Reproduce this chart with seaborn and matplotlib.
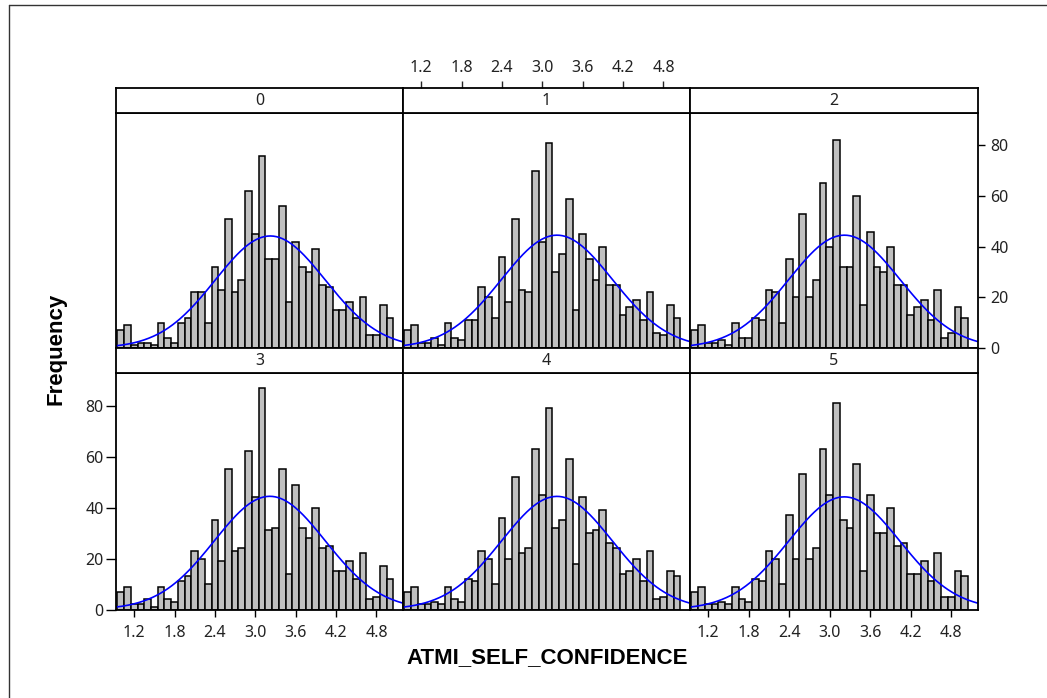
import numpy as np
import pandas as pd
import matplotlib
matplotlib.use("Agg")
import matplotlib.pyplot as plt
from matplotlib.lines import Line2D
import seaborn as sns

# Histogram bins (centres of the 0.1-wide score bins)
bin_centers = [1.0, 1.1, 1.2, 1.3, 1.4, 1.5, 1.6, 1.7, 1.8, 1.9,
               2.0, 2.1, 2.2, 2.3, 2.4, 2.5, 2.6, 2.7, 2.8, 2.9,
               3.0, 3.1, 3.2, 3.3, 3.4, 3.5, 3.6, 3.7, 3.8, 3.9,
               4.0, 4.1, 4.2, 4.3, 4.4, 4.5, 4.6, 4.7, 4.8, 4.9, 5.0]
bin_width = 0.1

panel_labels = ["0", "1", "2", "3", "4", "5"]

counts_0 = [7, 9, 1, 2, 2, 1, 10, 4, 2, 10, 12, 22, 22, 10, 32, 23, 51, 22, 27, 62, 45,
            76, 35, 35, 56, 18, 42, 32, 30, 39, 25, 24, 15, 15, 18, 12, 20, 5, 5, 17, 12]
counts_1 = [7, 9, 2, 2, 4, 1, 10, 4, 3, 11, 11, 24, 20, 12, 36, 18, 51, 23, 22, 70, 42,
            81, 30, 37, 59, 15, 45, 35, 27, 40, 25, 25, 13, 16, 19, 11, 22, 6, 5, 17, 12]
counts_2 = [7, 9, 2, 2, 3, 1, 10, 4, 4, 12, 11, 23, 22, 10, 35, 20, 53, 20, 27, 65, 40,
            82, 32, 32, 60, 17, 46, 32, 30, 40, 25, 25, 13, 16, 19, 11, 23, 4, 6, 16, 12]
counts_3 = [7, 9, 2, 2, 4, 1, 9, 4, 3, 11, 13, 23, 20, 10, 35, 19, 55, 23, 24, 62, 44,
            87, 31, 32, 55, 14, 49, 32, 28, 40, 24, 25, 15, 15, 19, 12, 22, 4, 5, 17, 12]
counts_4 = [7, 9, 2, 2, 3, 2, 9, 4, 3, 12, 11, 23, 20, 10, 36, 20, 52, 22, 24, 63, 45,
            79, 32, 35, 59, 18, 44, 30, 31, 39, 26, 24, 14, 15, 20, 11, 23, 4, 5, 15, 13]
counts_5 = [7, 9, 2, 2, 3, 2, 9, 4, 3, 12, 11, 23, 20, 10, 37, 20, 53, 20, 24, 63, 45,
            81, 35, 32, 57, 15, 45, 30, 30, 40, 25, 26, 14, 14, 19, 11, 22, 5, 5, 15, 13]
panel_counts = [counts_0, counts_1, counts_2, counts_3, counts_4, counts_5]

x_ticks = [1.2, 1.8, 2.4, 3.0, 3.6, 4.2, 4.8]
x_tick_labels = ["1.2", "1.8", "2.4", "3.0", "3.6", "4.2", "4.8"]
y_ticks = [0, 20, 40, 60, 80]
x_title = "ATMI_SELF_CONFIDENCE"
y_title = "Frequency"

sns.set_style("white")
plt.rcParams["font.family"] = ["Noto Sans", "DejaVu Sans"]

W, H = 1047, 698
fig = plt.figure(figsize=(W / 100, H / 100), dpi=100)
fig.patch.set_facecolor("white")

XLIM = (0.93, 5.195)
YLIM = (0, 92.8)
FRAME_LW = 1.3
TICK_FS = 11.5


def px_axes(left, top, right, bottom):
    return fig.add_axes([left / W, 1 - bottom / H, (right - left) / W, (bottom - top) / H])


col_px = [(116, 403), (403, 690), (690, 978)]
row_px = [(113, 348), (373, 609.5)]
strip_px = [(88, 113), (348, 373)]

edges = [round(b - bin_width / 2, 3) for b in bin_centers] + [round(bin_centers[-1] + bin_width / 2, 3)]

for idx, (label, counts) in enumerate(zip(panel_labels, panel_counts)):
    r, c = divmod(idx, 3)
    x0, x1 = col_px[c]
    y0, y1 = row_px[r]
    ax = px_axes(x0, y0, x1, y1)

    df = pd.DataFrame({"score": bin_centers, "count": counts})
    sns.histplot(data=df, x="score", weights="count", bins=edges, ax=ax,
                 color="#c0c0c0", edgecolor="black", linewidth=1.1, alpha=1.0)

    # fitted normal curve scaled to counts
    cts = np.array(counts, dtype=float)
    xs_c = np.array(bin_centers)
    n = cts.sum()
    mu = (cts * xs_c).sum() / n
    sd = np.sqrt((cts * (xs_c - mu) ** 2).sum() / (n - 1))
    xs = np.linspace(XLIM[0], XLIM[1], 300)
    ys = n * bin_width * np.exp(-0.5 * ((xs - mu) / sd) ** 2) / (sd * np.sqrt(2 * np.pi))
    sns.lineplot(x=xs, y=ys, ax=ax, color="#0000ff", linewidth=1.2)

    ax.set_xlim(*XLIM)
    ax.set_ylim(*YLIM)
    ax.set_xlabel("")
    ax.set_ylabel("")
    for sp in ax.spines.values():
        sp.set_visible(True)
        sp.set_color("black")
        sp.set_linewidth(FRAME_LW)
        sp.set_zorder(5)

    ax.tick_params(axis="both", direction="out", length=5, width=1, color="black",
                   labelsize=TICK_FS, labelcolor="#222222")

    # x axis ticks only on bottom-left and bottom-right panels
    if idx in (3, 5):
        ax.set_xticks(x_ticks)
        ax.set_xticklabels(x_tick_labels)
        ax.tick_params(axis="x", bottom=True, pad=6)
    else:
        ax.set_xticks([])

    if idx == 3:
        ax.set_yticks(y_ticks)
        ax.tick_params(axis="y", left=True, length=7, pad=2)
    elif idx == 2:
        ax.yaxis.tick_right()
        ax.set_yticks(y_ticks)
        ax.tick_params(axis="y", right=True, left=False, pad=4)
    else:
        ax.set_yticks([])

    # panel strip header
    s0, s1 = strip_px[r]
    sax = px_axes(x0, s0, x1, s1)
    sax.set_facecolor("white")
    sax.set_xlim(*XLIM)
    sax.set_ylim(0, 1)
    sax.set_yticks([])
    for sp in sax.spines.values():
        sp.set_visible(True)
        sp.set_color("black")
        sp.set_linewidth(FRAME_LW)
    sax.text(0.5, 0.48, label, transform=sax.transAxes, ha="center", va="center",
             fontsize=TICK_FS, color="#222222")
    if idx == 1:
        sax.xaxis.tick_top()
        sax.set_xticks(x_ticks)
        sax.set_xticklabels(x_tick_labels)
        sax.tick_params(axis="x", top=True, bottom=False, direction="out", length=5,
                        width=1, pad=4, labelsize=TICK_FS, labelcolor="#222222")
    else:
        sax.set_xticks([])

fig.text(547 / W, 1 - 658 / H, x_title, ha="center", va="center", fontsize=16,
         fontweight="bold", family="Liberation Sans", color="black")
fig.text(56 / W, 1 - 349 / H, y_title, ha="center", va="center", fontsize=16,
         fontweight="bold", family="Liberation Sans", rotation=90, color="black")

# outer frame
fig.add_artist(Line2D([9 / W, 9 / W], [0, 1 - 5 / H], transform=fig.transFigure,
                      color="#333333", linewidth=1))
fig.add_artist(Line2D([9 / W, 1], [1 - 5 / H, 1 - 5 / H], transform=fig.transFigure,
                      color="#333333", linewidth=1))

fig.savefig("out.png", dpi=100, facecolor="white")
